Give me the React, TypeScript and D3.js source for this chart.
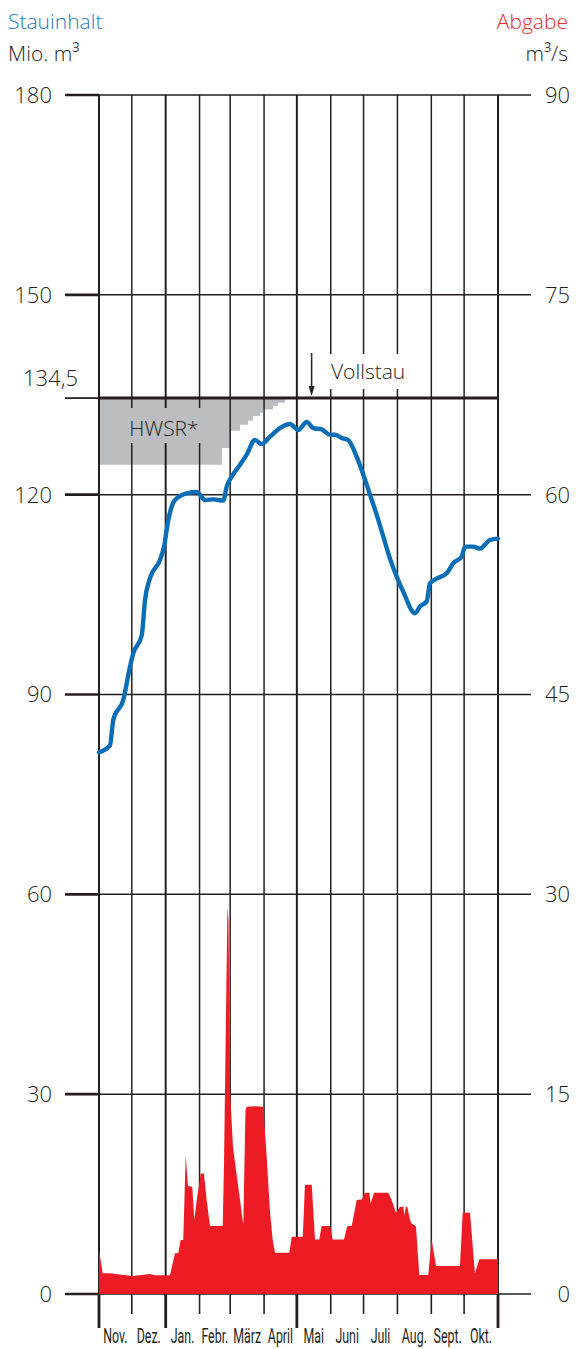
import React from "react";
import * as d3 from "d3";

// ---- data ----
const leftTicks = [0, 30, 60, 90, 120, 150, 180];
const rightTicks = [0, 15, 30, 45, 60, 75, 90];
const monthLabels = ["Nov.", "Dez.", "Jan.", "Febr.", "März", "April", "Mai", "Juni", "Juli", "Aug.", "Sept.", "Okt."];
const vollstau = 134.5;

// Stauinhalt (Mio. m³) by day offset from 1 Nov
const storageDays = [0, 10.1, 13.1, 22.2, 28.4, 31.4, 39.1, 42.1, 46.7, 55.8, 59.5, 63.4, 69.5, 80.2, 89.4, 97, 104.6, 113.7, 116.8, 121.4, 129, 135.1, 142.7, 148.8, 156.4, 165.6, 174.7, 182.3, 190, 196, 203.7, 211.3, 215.9, 222, 228, 235.7, 241.8, 247.9, 254, 260.1, 266.2, 272.3, 278.4, 289.1, 293.6, 299.8, 302.8, 308.9, 318, 324.1, 331.8, 334.8, 342.4, 348.5, 357.7, 365];
const storageValues = [81.3, 82.4, 86.2, 89.2, 94.2, 96.2, 98.9, 104.2, 107.5, 110.2, 112.2, 116.2, 119.2, 120.2, 120.4, 119.2, 119.3, 119.1, 121.2, 122.7, 124.5, 126.0, 128.2, 127.6, 128.7, 130.0, 130.6, 129.7, 130.9, 130.0, 129.8, 129.0, 129.0, 128.5, 128.2, 125.7, 123.0, 120.0, 117.0, 113.7, 110.4, 107.7, 105.4, 102.2, 103.2, 104.0, 106.7, 107.4, 108.2, 109.7, 110.7, 112.2, 112.2, 111.9, 113.2, 113.4];

// Abgabe (m³/s) by day offset from 1 Nov
const outflowDays = [0, 3.4, 10.1, 22.2, 31.4, 46.7, 51.2, 64.9, 69.5, 72.5, 74.7, 77.1, 79.3, 81.4, 85.3, 87.2, 89.4, 93.1, 96, 98.5, 101.5, 113.2, 114.4, 117.5, 118.5, 119.8, 122.6, 127.4, 132, 134, 135.1, 142.7, 150.3, 153.4, 156.4, 158.9, 161, 174.1, 176.3, 186.4, 188.4, 194.6, 197.6, 201.5, 203.7, 211.3, 213.8, 224.1, 227.1, 231.2, 235.7, 240.3, 243.3, 247.3, 248.5, 251.6, 264.6, 267.7, 271.7, 275.3, 278.4, 279.3, 280.8, 282, 284.5, 286, 288.1, 290, 293, 301.2, 304.3, 308.3, 330.2, 332.7, 339.4, 343.9, 347.9, 365];
const outflowValues = [3.3, 1.55, 1.55, 1.43, 1.35, 1.5, 1.4, 1.4, 3.05, 3.05, 4.05, 4.05, 10.4, 8.1, 8.05, 5.55, 7.05, 9.05, 9.05, 7.05, 5.1, 5.1, 10.0, 29.1, 28.0, 15.3, 11.0, 8.05, 5.2, 13.8, 14.06, 14.1, 14.06, 10.3, 6.2, 4.05, 3.1, 3.1, 4.3, 4.3, 8.2, 8.2, 4.1, 4.1, 5.1, 5.1, 4.1, 4.1, 5.1, 5.1, 7.05, 7.1, 7.6, 7.6, 6.8, 7.6, 7.6, 7.05, 6.1, 6.55, 6.55, 5.9, 6.55, 6.55, 5.55, 5.3, 5.2, 5.05, 1.43, 1.43, 4.1, 2.1, 2.1, 6.1, 6.1, 1.55, 2.6, 2.6];

// HWSR* lower boundary (Mio. m³), step function by day offset
const hwsrDays = [0, 112.5, 119.8, 129.0, 136.3, 140.9, 147.3, 150.0, 159.2, 163.7, 170.1, 172];
const hwsrLower = [124.5, 127.0, 129.6, 130.5, 131.1, 131.8, 132.3, 132.8, 133.3, 133.8, 134.4, 134.5];

const start = new Date(2002, 10, 1);
const end = new Date(2003, 10, 1);
const dayToDate = (d: number) => new Date(start.getTime() + d * 86400000);

export default function App() {
  const W = 576, H = 1349;
  const x = d3.scaleTime().domain([start, end]).range([99, 498]);
  const yL = d3.scaleLinear().domain([0, 180]).range([1294, 95]);
  const yR = d3.scaleLinear().domain([0, 90]).range([1294, 95]);

  const months = d3.timeMonth.range(start, end);
  const bounds = [...months, end];
  const thickBounds = [0, 2, 6, 12];

  const numFont = "'Open Sans', 'Noto Sans', sans-serif";
  const fw = 300;
  const ink = "#231f20";
  const blue = "#0a6eb7";
  const red = "#ed1c24";

  const hwsrData = hwsrDays.map((d, i) => ({ d, v: hwsrLower[i] }));
  const hwsrArea = d3.area<{ d: number; v: number }>()
    .x((p) => x(dayToDate(p.d)))
    .y0((p) => yL(p.v))
    .y1(() => yL(vollstau))
    .curve(d3.curveStepAfter)(hwsrData);

  const outData = outflowDays.map((d, i) => ({ d, v: outflowValues[i] }));
  const outArea = d3.area<{ d: number; v: number }>()
    .x((p) => x(dayToDate(p.d)))
    .y0(yR(0))
    .y1((p) => yR(p.v))
    .curve(d3.curveLinear)(outData);

  const stData = storageDays.map((d, i) => ({ d, v: storageValues[i] }));
  const stLine = d3.line<{ d: number; v: number }>()
    .x((p) => x(dayToDate(p.d)))
    .y((p) => yL(p.v))
    .curve(d3.curveMonotoneX)(stData);

  const xv = x(dayToDate(194.5));

  return (
    <div style={{ position: "absolute", left: 0, top: 0 }}>
      <svg width={W} height={H} style={{ display: "block" }}>
        <rect width={W} height={H} fill="#fff" />
        {/* HWSR area */}
        <path d={hwsrArea || ""} fill="#bcbdc0" />
        {/* horizontal grid */}
        {leftTicks.map((t) => (
          <g key={"h" + t}>
            <line x1={65} x2={99} y1={yL(t)} y2={yL(t)} stroke={ink} strokeWidth={2.6} />
            <line x1={99} x2={531} y1={yL(t)} y2={yL(t)} stroke={ink} strokeWidth={1.5} />
          </g>
        ))}
        {/* vertical grid */}
        {bounds.map((b, i) => (
          <line key={"v" + i} x1={x(b)} x2={x(b)} y1={yL(180)} y2={yL(0)} stroke={ink}
            strokeWidth={thickBounds.includes(i) ? 2 : 1.5} />
        ))}
        {/* bottom ticks */}
        {bounds.map((b, i) => (
          <line key={"t" + i} x1={x(b)} x2={x(b)} y1={yL(0)}
            y2={thickBounds.includes(i) ? 1328 : 1314} stroke={ink}
            strokeWidth={thickBounds.includes(i) ? 2.8 : 1.6} />
        ))}
        {/* Vollstau line */}
        <line x1={65} x2={99} y1={yL(vollstau)} y2={yL(vollstau)} stroke={ink} strokeWidth={1.6} />
        <line x1={99} x2={499} y1={yL(vollstau)} y2={yL(vollstau)} stroke={ink} strokeWidth={3} />
        {/* Outflow area */}
        <path d={outArea || ""} fill={red} />
        {/* Storage line */}
        <path d={stLine || ""} fill="none" stroke={blue} strokeWidth={4.4} strokeLinejoin="round" strokeLinecap="round" />
        {/* labels boxes */}
        <rect x={124} y={408} width={80} height={35} fill="#bcbdc0" />
        <text x={164} y={436} textAnchor="middle" fontFamily={numFont} fontWeight={fw} fontSize={21} fill={ink}>HWSR*</text>
        <rect x={318} y={354} width={96} height={35} fill="#fff" />
        <text x={331} y={379} fontFamily={numFont} fontWeight={fw} fontSize={21} fill={ink}>Vollstau</text>
        <line x1={xv} x2={xv} y1={353} y2={388} stroke={ink} strokeWidth={1.5} />
        <path d={`M${xv - 3},${386} L${xv + 3},${386} L${xv},${396} Z`} fill={ink} />
        {/* axis labels */}
        {leftTicks.map((t) => (
          <text key={"l" + t} x={52} y={yL(t)} dy="0.36em" textAnchor="end" fontFamily={numFont} fontWeight={fw} fontSize={22} fill={ink}>{t}</text>
        ))}
        <text x={78} y={yL(vollstau) - 12} textAnchor="end" fontFamily={numFont} fontWeight={fw} fontSize={22} fill={ink}>134,5</text>
        {rightTicks.map((t) => (
          <text key={"r" + t} x={570} y={yR(t)} dy="0.36em" textAnchor="end" fontFamily={numFont} fontWeight={fw} fontSize={22} fill={ink}>{t}</text>
        ))}
        <text x={8} y={29} fontFamily={numFont} fontWeight={fw} fontSize={21} fill="#1c7ac2">Stauinhalt</text>
        <text x={8} y={61} fontFamily={numFont} fontWeight={fw} fontSize={21} fill={ink}>Mio. m³</text>
        <text x={568} y={29} textAnchor="end" fontFamily={numFont} fontWeight={fw} fontSize={21} fill="#ee2a2e">Abgabe</text>
        <text x={568} y={61} textAnchor="end" fontFamily={numFont} fontWeight={fw} fontSize={21} fill={ink}>m³/s</text>
        {/* month labels */}
        {months.map((m, i) => {
          const cx = (x(m) + x(bounds[i + 1])) / 2;
          return (
            <text key={"m" + i} transform={`translate(${cx},1343) scale(0.62,1)`} textAnchor="middle"
              fontFamily="Roboto, 'Open Sans', sans-serif" fontWeight={400} fontSize={20} fill={ink}>{monthLabels[i]}</text>
          );
        })}
      </svg>
    </div>
  );
}
